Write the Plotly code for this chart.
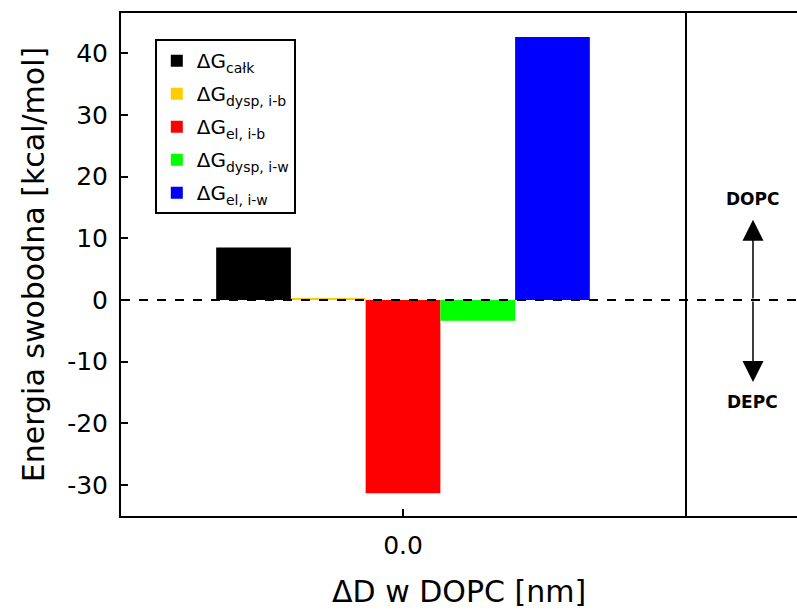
import plotly.graph_objects as go

# Free-energy components at ΔD = 0.0 nm (kcal/mol)
positions = [0.0]
series_names = [
    "ΔG<sub>całk</sub>",
    "ΔG<sub>dysp, i-b</sub>",
    "ΔG<sub>el, i-b</sub>",
    "ΔG<sub>dysp, i-w</sub>",
    "ΔG<sub>el, i-w</sub>",
]
series_values = [8.5, 0.3, -31.3, -3.35, 42.6]
series_colors = ["#000000", "#FFCC00", "#FF0000", "#00FF00", "#0000FF"]

y_ticks = [-30, -20, -10, 0, 10, 20, 30, 40]
y_tick_text = [str(v) for v in y_ticks]  # plain hyphen for negatives
x_ticks = [0.0]
x_tick_text = ["0.0"]

bar_w = 0.1325
n = len(series_values)

fig = go.Figure()
for i, (name, val, col) in enumerate(zip(series_names, series_values, series_colors)):
    fig.add_trace(go.Bar(
        x=positions, y=[val], name=name,
        width=bar_w, offset=(i - n / 2) * bar_w,
        marker=dict(color=col, line=dict(width=0)),
        legendgroup="g%d" % i,
        xaxis="x", yaxis="y",
    ))

FONT = "DejaVu Sans"
split = 564 / 676

fig.update_layout(
    width=797, height=611,
    margin=dict(l=121, r=0, t=13, b=95),
    plot_bgcolor="white", paper_bgcolor="white",
    barmode="overlay",
    font=dict(family=FONT, color="black", size=20),
    showlegend=True,
    legend=dict(
        x=0.05, y=0.948, xanchor="left", yanchor="top",
        bordercolor="black", borderwidth=2, bgcolor="white",
        font=dict(size=20, family=FONT),
        itemwidth=30, tracegroupgap=4,
    ),
    xaxis=dict(
        domain=[0, split], range=[-0.5, 0.5],
        tickvals=x_ticks, ticktext=x_tick_text,
        ticks="inside", ticklen=7, tickwidth=2, tickcolor="black",
        showline=True, linewidth=2, linecolor="black", mirror=True,
        showgrid=False, zeroline=False,
        tickfont=dict(size=25), ticklabelstandoff=6,
        anchor="y",
    ),
    xaxis2=dict(
        domain=[split, 1], range=[0, 1],
        showline=True, linewidth=2, linecolor="black", mirror=True,
        showticklabels=False, ticks="", showgrid=False, zeroline=False,
        anchor="y",
    ),
    yaxis=dict(
        range=[-35, 46.5], tickvals=y_ticks, ticktext=y_tick_text,
        ticks="inside", ticklen=7, tickwidth=2, tickcolor="black",
        showline=True, linewidth=2, linecolor="black", mirror=True,
        showgrid=False, zeroline=False,
        tickfont=dict(size=25), ticklabelstandoff=6,
        title=dict(text="Energia swobodna [kcal/mol]", font=dict(size=30), standoff=14),
        anchor="x",
    ),
)

# x-axis title, centred under the full frame (both panels)
fig.add_annotation(
    x=0.5, y=-0.151, xref="paper", yref="paper",
    xanchor="center", yanchor="middle",
    text="ΔD w DOPC [nm]", showarrow=False,
    font=dict(size=30, family=FONT, color="black"),
)

# Zero reference line across both panels
fig.add_shape(type="line", xref="paper", yref="y", x0=0, x1=1, y0=0, y1=0,
              line=dict(color="black", width=2, dash="dash"), layer="above")

# Direction arrows in the side panel
arrow_x = 0.607
for tip, label, lab_y in [(13.0, "DOPC", 16.4), (-13.3, "DEPC", -16.6)]:
    fig.add_annotation(
        x=arrow_x, y=tip, ax=arrow_x, ay=0,
        xref="x2", yref="y", axref="x2", ayref="y",
        showarrow=True, arrowhead=2, arrowsize=2.8, arrowwidth=1.5,
        arrowcolor="black", text="",
    )
    fig.add_annotation(
        x=arrow_x, y=lab_y, xref="x2", yref="y",
        text="<b>" + label + "</b>", showarrow=False,
        font=dict(size=17, family=FONT, color="black"),
    )

fig.write_html("out.html")
